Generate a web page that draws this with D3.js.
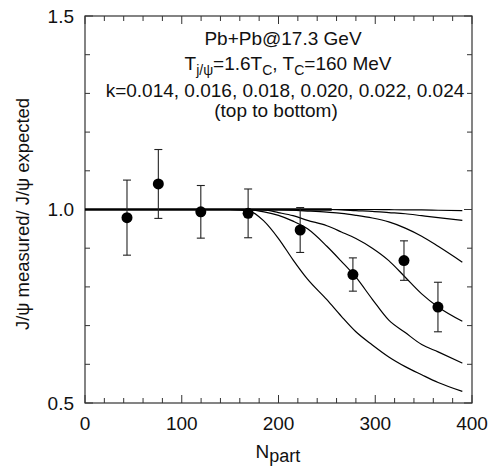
<!DOCTYPE html>
<html>
<head>
<meta charset="utf-8">
<script src="https://cdn.jsdelivr.net/npm/d3@7"></script>
<style>
    body { margin: 0; background: #fff; }
    text { font-family: "Liberation Sans", Arial, sans-serif; fill: #111; }
</style>
</head>
<body>
<div id="chart"></div>
<script>
// measured points
var npart = [43.4, 75.8, 119.7, 168.6, 222.4, 276.9, 329.7, 364.8];
var ratio = [0.979, 1.066, 0.994, 0.990, 0.947, 0.832, 0.868, 0.748];
var ratioErr = [0.097, 0.089, 0.068, 0.063, 0.058, 0.043, 0.051, 0.064];

// model curves, one per k (top to bottom)
var kValues = ['0.014', '0.016', '0.018', '0.020', '0.022', '0.024'];
var curveN = [0, 150, 170, 185, 200, 215, 230, 250, 265, 280, 297, 314, 331, 348, 365, 390];
var curveK014 = [1, 1, 1, 1, 1, 1, 1, 1, 1, 1, 1, 0.9995, 0.999, 0.999, 0.998, 0.997];
var curveK016 = [1, 1, 1, 1, 1, 1, 1, 1, 0.999, 0.997, 0.995, 0.992, 0.989, 0.984, 0.979, 0.972];
var curveK018 = [1, 1, 1, 1, 1, 0.998, 0.996, 0.993, 0.990, 0.985, 0.978, 0.968, 0.952, 0.931, 0.905, 0.864];
var curveK020 = [1, 1, 1, 0.999, 0.992, 0.984, 0.972, 0.958, 0.942, 0.925, 0.900, 0.868, 0.825, 0.782, 0.748, 0.711];
var curveK022 = [1, 1, 0.999, 0.994, 0.985, 0.970, 0.950, 0.905, 0.866, 0.825, 0.768, 0.714, 0.682, 0.651, 0.632, 0.603];
var curveK024 = [1, 1, 0.996, 0.970, 0.925, 0.870, 0.820, 0.767, 0.724, 0.684, 0.650, 0.619, 0.594, 0.573, 0.553, 0.530];
var curves = [curveK014, curveK016, curveK018, curveK020, curveK022, curveK024];

var xTicks = [0, 100, 200, 300, 400];
var yTicks = [0.5, 1.0, 1.5];

var W = 492, H = 468;
var margin = { top: 16, right: 20, bottom: 65, left: 85 };
var width = W - margin.left - margin.right;
var height = H - margin.top - margin.bottom;

var svg = d3.select("#chart").append("svg")
    .attr("width", W)
    .attr("height", H);

var g = svg.append("g")
    .attr("transform", "translate(" + margin.left + "," + margin.top + ")");

var x = d3.scaleLinear().domain([0, 400]).range([0, width]);
var y = d3.scaleLinear().domain([0.5, 1.5]).range([height, 0]);

// frame
g.append("rect")
    .attr("width", width)
    .attr("height", height)
    .attr("fill", "none")
    .attr("stroke", "#333")
    .attr("stroke-width", 1.2);

// ticks, all pointing inward
var minorX = d3.range(0, 401, 20);
var minorY = d3.range(0.5, 1.501, 0.1);
function tickLen(v, major) {
    return major.some(function (m) { return Math.abs(m - v) < 1e-6; }) ? 8 : 5;
}
var tickG = g.append("g").attr("stroke", "#333").attr("stroke-width", 1);
minorX.forEach(function (v) {
    var l = tickLen(v, xTicks);
    tickG.append("line").attr("x1", x(v)).attr("x2", x(v)).attr("y1", height).attr("y2", height - l);
    tickG.append("line").attr("x1", x(v)).attr("x2", x(v)).attr("y1", 0).attr("y2", l);
});
minorY.forEach(function (v) {
    var l = tickLen(v, yTicks);
    tickG.append("line").attr("x1", 0).attr("x2", l).attr("y1", y(v)).attr("y2", y(v));
    tickG.append("line").attr("x1", width).attr("x2", width - l).attr("y1", y(v)).attr("y2", y(v));
});

// tick labels
g.selectAll(".xlab").data(xTicks).enter().append("text")
    .attr("x", function (d) { return x(d); })
    .attr("y", height + 27)
    .attr("text-anchor", "middle")
    .style("font-size", "19px")
    .text(function (d) { return d; });

g.selectAll(".ylab").data(yTicks).enter().append("text")
    .attr("x", -11)
    .attr("y", function (d) { return y(d); })
    .attr("dy", "0.36em")
    .attr("text-anchor", "end")
    .style("font-size", "19px")
    .text(function (d) { return d3.format(".1f")(d); });

// axis titles
var xt = svg.append("text")
    .attr("x", 278)
    .attr("y", 458)
    .attr("text-anchor", "middle")
    .style("font-size", "19px");
xt.append("tspan").text("N");
xt.append("tspan").attr("dy", 4).style("font-size", "18px").text("part");

svg.append("text")
    .attr("transform", "translate(29,214) rotate(-90)")
    .attr("text-anchor", "middle")
    .attr("textLength", 232)
    .attr("lengthAdjust", "spacingAndGlyphs")
    .style("font-size", "18px")
    .text("J/\u03c8 measured/ J/\u03c8 expected");

// annotation
var ann = g.append("g").style("font-size", "19px").attr("text-anchor", "middle");
ann.append("text").attr("x", 198).attr("y", 29).text("Pb+Pb@17.3 GeV");
var t2 = ann.append("text").attr("x", 203).attr("y", 54);
t2.append("tspan").text("T");
t2.append("tspan").attr("dy", 5).style("font-size", "14px").text("j/\u03c8");
t2.append("tspan").attr("dy", -5).text("=1.6T");
t2.append("tspan").attr("dy", 5).style("font-size", "14px").text("C");
t2.append("tspan").attr("dy", -5).text(", T");
t2.append("tspan").attr("dy", 5).style("font-size", "14px").text("C");
t2.append("tspan").attr("dy", -5).text("=160 MeV");
ann.append("text").attr("x", 200).attr("y", 81)
    .text("k=" + kValues.join(", "));
ann.append("text").attr("x", 191).attr("y", 101).text("(top to bottom)");

// common unity part where the curves overlap
g.append("line")
    .attr("x1", x(0)).attr("x2", x(255))
    .attr("y1", y(1)).attr("y2", y(1))
    .attr("stroke", "#000")
    .attr("stroke-width", 2.4);

var line = d3.line()
    .curve(d3.curveMonotoneX)
    .x(function (d) { return x(d[0]); })
    .y(function (d) { return y(d[1]); });

curves.forEach(function (vals) {
    g.append("path")
        .datum(curveN.map(function (n, i) { return [n, vals[i]]; }))
        .attr("fill", "none")
        .attr("stroke", "#000")
        .attr("stroke-width", 1.2)
        .attr("d", line);
});

// error bars and points
var pts = npart.map(function (n, i) { return { n: n, v: ratio[i], e: ratioErr[i] }; });
var eb = g.append("g").attr("stroke", "#222").attr("stroke-width", 1.1);
pts.forEach(function (d) {
    eb.append("line").attr("x1", x(d.n)).attr("x2", x(d.n)).attr("y1", y(d.v - d.e)).attr("y2", y(d.v + d.e));
    eb.append("line").attr("x1", x(d.n) - 4).attr("x2", x(d.n) + 4).attr("y1", y(d.v - d.e)).attr("y2", y(d.v - d.e));
    eb.append("line").attr("x1", x(d.n) - 4).attr("x2", x(d.n) + 4).attr("y1", y(d.v + d.e)).attr("y2", y(d.v + d.e));
});
g.selectAll(".pt").data(pts).enter().append("circle")
    .attr("cx", function (d) { return x(d.n); })
    .attr("cy", function (d) { return y(d.v); })
    .attr("r", 5.5)
    .attr("fill", "#000");
</script>
</body>
</html>
